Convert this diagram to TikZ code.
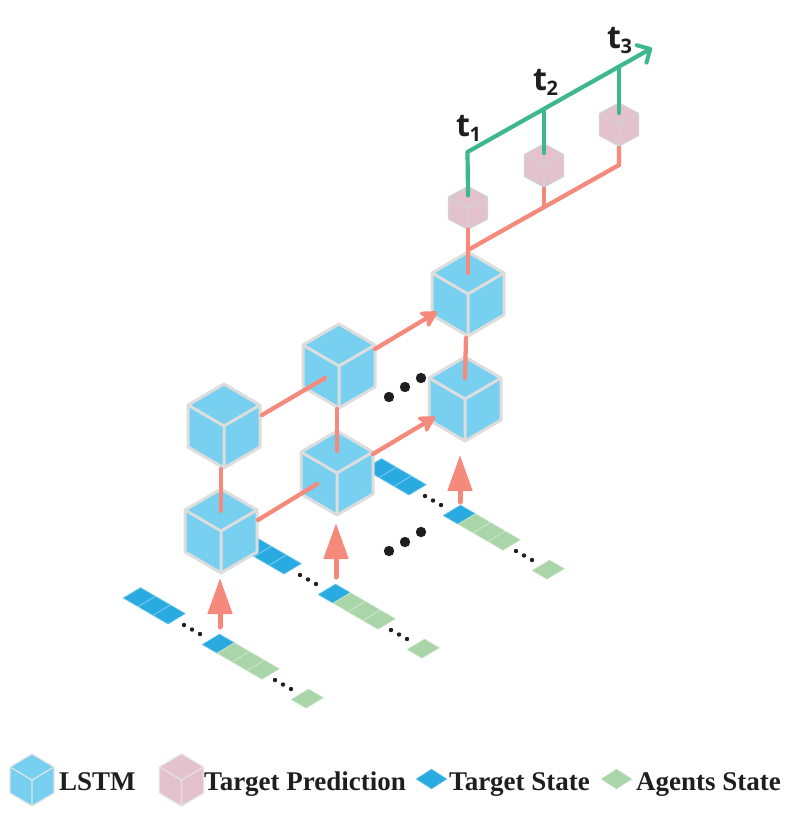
\documentclass[tikz,border=0pt]{standalone}
\usepackage{fontspec}
\setmainfont{Liberation Serif}
\newfontfamily\labelfont{Open Sans}
\usetikzlibrary{arrows.meta,calc}
\definecolor{cubeblue}{HTML}{78D0F0}
\definecolor{cubeedge}{HTML}{DDDDDD}
\definecolor{predpink}{HTML}{E3C2CE}
\definecolor{prededge}{HTML}{D2D2D2}
\definecolor{linkred}{HTML}{F58A7C}
\definecolor{timegreen}{HTML}{3CB88C}
\definecolor{stateblue}{HTML}{29ABE2}
\definecolor{stategreen}{HTML}{A9D5A8}
\definecolor{inkblack}{HTML}{1E1E1E}
\tikzset{
  link/.style={draw=linkred,line width=4.3pt,line cap=round},
  linkarrow/.style={link,-{Stealth[length=20pt,width=22pt,inset=6pt,round]}},
  bigarrow/.style={draw=linkred,line width=5pt,line cap=round,-{Triangle[length=36pt,width=24pt]}},
  timeline/.style={draw=timegreen,line width=4.2pt,line cap=round},
  legendtext/.style={font=\fontsize{27}{30}\selectfont\bfseries,text=inkblack,inner sep=0pt},
  tlabel/.style={font=\labelfont\fontsize{32}{34}\selectfont\bfseries,text=inkblack,inner sep=0pt},
}
\newcommand{\tname}[1]{t\kern-0.5pt\raisebox{-5pt}{\fontsize{20}{22}\selectfont #1}}
% \cubeshape{name}{x,y}{dx}{dy}{h}{fill}{edge}{edge width}
\newcommand{\cubeshape}[8]{%
  \coordinate (#1) at (#2);
  \filldraw[fill=#6,draw=#7,line width=#8,line join=round]
    ($(#1)+(0,-2*#4)$) -- ($(#1)+(#3,-#4)$) -- ($(#1)+(#3,#5-#4)$) -- ($(#1)+(0,#5)$)
    -- ($(#1)+(-#3,#5-#4)$) -- ($(#1)+(-#3,-#4)$) -- cycle;
  \draw[draw=#7,line width=#8,line join=round]
    ($(#1)+(-#3,-#4)$) -- (#1) -- ($(#1)+(#3,-#4)$) (#1) -- ($(#1)+(0,#5)$);
}
% one state cell, left corner at (#1,#2)
\newcommand{\statecell}[3]{%
  \filldraw[fill=#3,draw=#3!55!white,line width=.6pt,line join=round] (#1,#2) -- ++(17.5,-10.5) -- ++(15,8.7) -- ++(-17.5,10.5) -- cycle;
}
\newcommand{\statedots}[2]{%
  \fill[inkblack] (#1,#2) circle (2.2) ++(8,4.5) circle (2.2) ++(8,4.5) circle (2.2);
}
\begin{document}
\begin{tikzpicture}[x=1pt,y=-1pt]
\useasboundingbox (0,0) rectangle (800,820);
% state strips
\foreach \sx/\sy in {0/0,116/-50,241/-129}{
  \begin{scope}[shift={(\sx,\sy)}]
    \statecell{123}{598}{stateblue}
    \statecell{138}{606.7}{stateblue}
    \statecell{153}{615.4}{stateblue}
    \statedots{184}{625}
    \statecell{202}{644.5}{stateblue}
    \statecell{217}{653.2}{stategreen}
    \statecell{232}{661.9}{stategreen}
    \statecell{247}{670.6}{stategreen}
    \statedots{275}{680}
    \statecell{291}{699.5}{stategreen}
  \end{scope}
}
% LSTM cubes
\cubeshape{A}{221,531}{36}{21}{42}{cubeblue}{cubeedge}{3pt}
\cubeshape{B}{224,426}{36}{21}{42}{cubeblue}{cubeedge}{3pt}
\cubeshape{C}{337,473}{36}{21}{42}{cubeblue}{cubeedge}{3pt}
\cubeshape{D}{339,366}{36}{21}{42}{cubeblue}{cubeedge}{3pt}
\cubeshape{E}{465,399}{36}{21}{42}{cubeblue}{cubeedge}{3pt}
\cubeshape{F}{468,294}{36}{21}{42}{cubeblue}{cubeedge}{3pt}
% prediction cubes
\cubeshape{P1}{468,207.5}{19.5}{10.5}{22}{predpink}{prededge}{1.2pt}
\cubeshape{P2}{544,165}{19.5}{10.5}{22}{predpink}{prededge}{1.2pt}
\cubeshape{P3}{619,124}{19.5}{10.5}{22}{predpink}{prededge}{1.2pt}
% red links
\draw[link] ($(A)+(37,-11)$) -- ($(C)+(-20,11)$);
\draw[link] ($(B)+(38,-11)$) -- ($(D)+(-14,12)$);
\draw[linkarrow] ($(C)+(36,-19)$) -- ($(E)+(-30,18)$);
\draw[linkarrow] ($(D)+(36,-17)$) -- ($(F)+(-31,18)$);
\coordinate (AB) at ($(A)+(0,-20)$);
\coordinate (CD) at ($(C)+(0,-22)$);
\coordinate (EF) at ($(E)+(0,-21)$);
\draw[link] (AB) -- ($(B)+(-3,43)$);
\draw[link] (CD) -- ($(D)+(-2,43)$);
\draw[link] (EF) -- ($(F)+(-2,44)$);
\draw[link] ($(P1)+(0,22)$) -- ($(F)+(0,-21)$);
\coordinate (fork) at ($(F)+(0,-44)$);
\coordinate (forkend) at ($(P3)+(0,41)$);
\coordinate (forkmid) at ($(P2)+(0,42)$);
\draw[link,line cap=butt,line join=miter] (fork) -- (forkend) -- ($(P3)+(0,22)$);
\draw[link,line cap=butt] (forkmid) -- ($(P2)+(0,22)$);
% time axis
\coordinate (tstart) at (467.5,152);
\coordinate (ttip) at (652,48);
\coordinate (tmid2) at (544,109);
\coordinate (tmid3) at (619,67);
\draw[timeline,line join=round,-{Straight Barb[length=10pt,width=20pt,line width=4pt,round]}] ($(P1)+(0,-12)$) -- (tstart) -- (ttip);
\draw[timeline] (tmid2) -- ($(P2)+(0,-12)$);
\draw[timeline] (tmid3) -- ($(P3)+(0,-11)$);
% big input arrows
\coordinate (ain) at (220,627);
\coordinate (aout) at (220,578);
\coordinate (cin) at (336,577);
\coordinate (cout) at (336,523);
\coordinate (ein) at (460,502);
\coordinate (eout) at (460,455);
\draw[bigarrow] (ain) -- (aout);
\draw[bigarrow] (cin) -- (cout);
\draw[bigarrow] (ein) -- (eout);
% big ellipsis dots
\foreach \ex/\ey in {389/551,405/542,421/532,389/397,405/387,421/378}{
  \fill[inkblack] (\ex,\ey) circle (5.2);
}
% time labels
\node[tlabel,anchor=base west] (t1) at (456,136) {\tname{1}};
\node[tlabel,anchor=base west] (t2) at (533,90) {\tname{2}};
\node[tlabel,anchor=base west] (t3) at (607,48) {\tname{3}};
% legend
\cubeshape{LA}{32,780}{22}{13}{26}{cubeblue}{white!78!gray}{1.2pt}
\cubeshape{LB}{181.5,780}{22}{13}{26}{predpink}{white!78!gray}{1.2pt}
\filldraw[fill=stateblue,draw=stateblue!55!white,line width=.5pt] (416,779) -- (431.5,769) -- (447,779) -- (431.5,789) -- cycle;
\filldraw[fill=stategreen,draw=stategreen!55!white,line width=.5pt] (601,779) -- (616.5,769) -- (632,779) -- (616.5,789) -- cycle;
\node[legendtext,anchor=base west] (l1) at (59,790) {LSTM};
\node[legendtext,anchor=base west] (l2) at (204,790) {Target Prediction};
\node[legendtext,anchor=base west] (l3) at (449,790) {Target State};
\node[legendtext,anchor=base west] (l4) at (636,790) {Agents State};
\end{tikzpicture}
\end{document}
